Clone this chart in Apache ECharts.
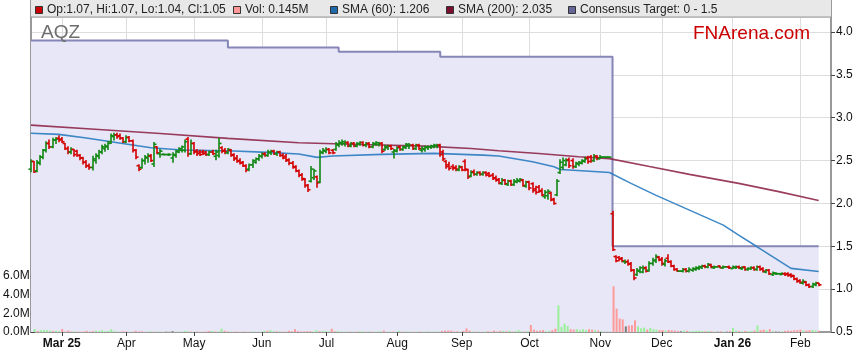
<!DOCTYPE html>
<html>
<head>
<meta charset="utf-8">
<script src="https://cdn.jsdelivr.net/npm/echarts@6/dist/echarts.min.js"></script>
<style>
html,body{margin:0;padding:0;background:#fff;}
#chart{width:859px;height:363px;}
</style>
</head>
<body>
<div id="chart"></div>
<script>
// ---------- DATA ----------
// weekday calendar (category axis), 17 Feb 2025 .. 16 Feb 2026
var startDate = '2025-02-17';
var categoryCount = 261;

var opens = [
2.40,2.49,2.38,2.47,2.54,2.62,2.70,2.66,2.74,2.76,
2.75,2.70,2.64,2.60,2.63,2.61,2.56,2.53,2.48,2.44,
2.42,2.50,2.55,2.60,2.64,2.66,2.72,2.78,2.80,2.79,
2.76,2.72,2.77,2.73,2.62,2.44,2.42,2.50,2.53,2.55,
2.46,2.66,2.58,2.57,2.57,2.57,2.53,2.56,2.60,2.62,
2.62,2.75,2.58,2.70,2.61,2.60,2.60,2.60,2.57,2.60,
2.55,2.56,2.65,2.62,2.59,2.62,2.57,2.53,2.50,2.48,
2.44,2.40,2.45,2.48,2.52,2.55,2.58,2.56,2.59,2.61,
2.58,2.60,2.56,2.55,2.51,2.47,2.43,2.38,2.33,2.28,
2.21,2.26,2.30,2.31,2.25,2.59,2.61,2.63,2.62,2.63,
2.68,2.70,2.70,2.71,2.67,2.70,2.67,2.69,2.71,2.68,
2.70,2.66,2.69,2.69,2.70,2.63,2.65,2.67,2.60,2.61,
2.66,2.63,2.65,2.67,2.68,2.64,2.68,2.62,2.63,2.65,
2.66,2.66,2.67,2.68,2.60,2.49,2.45,2.43,2.42,2.39,
2.42,2.49,2.39,2.32,2.37,2.34,2.36,2.34,2.36,2.35,
2.33,2.30,2.28,2.23,2.27,2.22,2.26,2.22,2.25,2.26,
2.27,2.20,2.25,2.23,2.17,2.19,2.15,2.08,2.09,2.12,
2.05,2.10,2.36,2.42,2.45,2.51,2.50,2.43,2.46,2.47,
2.49,2.53,2.54,2.50,2.55,2.52,2.54,2.54,2.54,1.88,
1.38,1.37,1.36,1.32,1.32,1.30,1.22,1.17,1.21,1.20,
1.25,1.22,1.30,1.33,1.37,1.35,1.29,1.36,1.32,1.27,
1.23,1.21,1.21,1.23,1.21,1.22,1.23,1.24,1.25,1.27,
1.26,1.28,1.25,1.26,1.27,1.25,1.26,1.26,1.24,1.25,
1.26,1.24,1.26,1.23,1.24,1.25,1.23,1.26,1.24,1.20,
1.22,1.17,1.18,1.18,1.17,1.18,1.18,1.17,1.16,1.12,
1.10,1.07,1.08,1.05,1.03,1.05,1.07
];
var highs = [
2.51,2.49,2.50,2.56,2.63,2.72,2.74,2.76,2.77,2.79,
2.77,2.70,2.66,2.65,2.63,2.62,2.57,2.54,2.50,2.46,
2.55,2.58,2.62,2.68,2.69,2.72,2.81,2.82,2.82,2.81,
2.77,2.79,2.78,2.74,2.63,2.45,2.52,2.56,2.58,2.57,
2.71,2.66,2.63,2.58,2.57,2.58,2.59,2.62,2.65,2.67,
2.74,2.77,2.74,2.71,2.63,2.62,2.62,2.61,2.61,2.62,
2.62,2.76,2.66,2.64,2.64,2.63,2.58,2.56,2.52,2.49,
2.45,2.46,2.51,2.53,2.57,2.59,2.59,2.62,2.62,2.62,
2.61,2.61,2.58,2.57,2.52,2.49,2.44,2.39,2.35,2.29,
2.22,2.43,2.40,2.32,2.62,2.64,2.65,2.64,2.63,2.71,
2.73,2.74,2.73,2.72,2.71,2.71,2.71,2.72,2.72,2.71,
2.71,2.71,2.72,2.71,2.71,2.68,2.68,2.68,2.63,2.66,
2.67,2.67,2.70,2.70,2.69,2.69,2.69,2.66,2.67,2.67,
2.68,2.69,2.69,2.69,2.62,2.50,2.48,2.45,2.44,2.44,
2.43,2.51,2.40,2.38,2.39,2.37,2.37,2.37,2.37,2.36,
2.35,2.32,2.29,2.29,2.28,2.27,2.27,2.28,2.29,2.29,
2.28,2.26,2.26,2.24,2.20,2.21,2.17,2.15,2.16,2.13,
2.06,2.28,2.51,2.53,2.52,2.53,2.52,2.48,2.49,2.51,
2.54,2.55,2.56,2.57,2.56,2.56,2.54,2.54,2.54,1.91,
1.39,1.38,1.37,1.34,1.34,1.31,1.23,1.24,1.26,1.27,
1.26,1.32,1.36,1.40,1.38,1.37,1.35,1.40,1.33,1.28,
1.24,1.21,1.24,1.24,1.25,1.25,1.26,1.27,1.28,1.28,
1.30,1.29,1.27,1.26,1.27,1.27,1.26,1.27,1.27,1.27,
1.27,1.26,1.26,1.25,1.26,1.26,1.27,1.27,1.25,1.23,
1.23,1.20,1.19,1.18,1.19,1.19,1.19,1.18,1.16,1.13,
1.11,1.11,1.09,1.06,1.07,1.08,1.07
];
var lows = [
2.37,2.36,2.37,2.45,2.52,2.60,2.64,2.65,2.70,2.72,
2.71,2.63,2.58,2.58,2.55,2.55,2.51,2.46,2.42,2.40,
2.39,2.47,2.52,2.58,2.61,2.63,2.70,2.74,2.76,2.75,
2.71,2.71,2.72,2.60,2.52,2.38,2.41,2.46,2.48,2.49,
2.43,2.58,2.54,2.57,2.57,2.56,2.48,2.54,2.59,2.60,
2.60,2.55,2.57,2.58,2.56,2.56,2.57,2.56,2.56,2.57,
2.51,2.54,2.59,2.58,2.58,2.55,2.50,2.48,2.46,2.43,
2.37,2.38,2.42,2.47,2.50,2.53,2.55,2.55,2.57,2.57,
2.56,2.55,2.52,2.49,2.45,2.41,2.37,2.31,2.27,2.19,
2.14,2.25,2.28,2.19,2.24,2.58,2.59,2.58,2.58,2.62,
2.66,2.68,2.67,2.66,2.66,2.66,2.66,2.68,2.67,2.66,
2.65,2.65,2.68,2.67,2.59,2.62,2.63,2.63,2.53,2.60,
2.62,2.62,2.64,2.64,2.63,2.63,2.63,2.60,2.61,2.63,
2.64,2.65,2.65,2.55,2.50,2.41,2.39,2.39,2.38,2.38,
2.38,2.38,2.29,2.31,2.33,2.33,2.33,2.33,2.32,2.31,
2.28,2.26,2.23,2.22,2.22,2.21,2.21,2.21,2.24,2.25,
2.20,2.19,2.16,2.13,2.11,2.13,2.09,2.06,2.05,2.03,
1.99,2.09,2.35,2.40,2.44,2.42,2.41,2.42,2.44,2.46,
2.48,2.47,2.48,2.49,2.51,2.52,2.54,2.54,2.54,1.45,
1.32,1.33,1.32,1.30,1.28,1.21,1.11,1.16,1.19,1.19,
1.20,1.21,1.28,1.31,1.33,1.28,1.27,1.31,1.26,1.22,
1.21,1.21,1.20,1.20,1.20,1.21,1.22,1.23,1.24,1.25,
1.25,1.25,1.24,1.26,1.25,1.24,1.26,1.24,1.24,1.24,
1.24,1.23,1.22,1.22,1.23,1.22,1.22,1.22,1.20,1.19,
1.17,1.16,1.17,1.18,1.17,1.16,1.15,1.14,1.11,1.08,
1.07,1.06,1.04,1.02,1.02,1.04,1.04
];
var closes = [
2.49,2.37,2.48,2.54,2.62,2.70,2.66,2.74,2.75,2.74,
2.72,2.64,2.60,2.63,2.57,2.56,2.53,2.48,2.44,2.42,
2.52,2.56,2.60,2.66,2.67,2.70,2.79,2.80,2.78,2.76,
2.72,2.77,2.73,2.62,2.54,2.40,2.50,2.54,2.56,2.50,
2.69,2.59,2.61,2.57,2.57,2.57,2.57,2.61,2.64,2.66,
2.72,2.58,2.70,2.60,2.58,2.57,2.58,2.57,2.60,2.58,
2.60,2.70,2.61,2.60,2.63,2.56,2.52,2.49,2.47,2.44,
2.39,2.45,2.50,2.52,2.55,2.57,2.56,2.60,2.61,2.58,
2.60,2.56,2.53,2.50,2.47,2.42,2.38,2.33,2.29,2.21,
2.16,2.40,2.38,2.24,2.60,2.62,2.63,2.59,2.59,2.69,
2.71,2.72,2.71,2.67,2.70,2.67,2.70,2.71,2.68,2.70,
2.66,2.70,2.71,2.70,2.61,2.66,2.67,2.64,2.62,2.65,
2.63,2.66,2.69,2.68,2.64,2.68,2.64,2.64,2.66,2.66,
2.67,2.68,2.68,2.57,2.52,2.43,2.41,2.41,2.40,2.43,
2.39,2.40,2.31,2.36,2.34,2.36,2.34,2.36,2.33,2.32,
2.29,2.27,2.24,2.27,2.23,2.26,2.22,2.26,2.27,2.28,
2.21,2.25,2.18,2.15,2.13,2.14,2.10,2.13,2.14,2.04,
2.00,2.26,2.48,2.50,2.50,2.44,2.43,2.47,2.48,2.50,
2.52,2.49,2.50,2.55,2.53,2.54,2.54,2.54,2.54,1.46,
1.33,1.35,1.33,1.32,1.29,1.22,1.13,1.22,1.25,1.24,
1.21,1.30,1.34,1.38,1.34,1.30,1.33,1.32,1.27,1.23,
1.21,1.21,1.23,1.21,1.23,1.24,1.25,1.26,1.27,1.26,
1.29,1.26,1.26,1.26,1.25,1.26,1.26,1.25,1.26,1.26,
1.25,1.25,1.23,1.24,1.25,1.23,1.26,1.23,1.21,1.22,
1.18,1.19,1.18,1.18,1.18,1.17,1.16,1.15,1.12,1.09,
1.08,1.09,1.05,1.03,1.06,1.07,1.05
];
// volume, millions
var volumes = [
0.32,0.12,0.20,0.22,0.20,0.15,0.10,0.12,0.10,0.32,
0.05,0.15,0.05,0.08,0.04,0.03,0.05,0.12,0.04,0.10,
0.15,0.10,0.20,0.08,0.12,0.30,0.10,0.05,0.03,0.08,
0.05,0.02,0.03,0.12,0.05,0.08,0.02,0.04,0.06,0.03,
0.05,0.02,0.03,0.04,0.02,0.10,0.03,0.05,0.03,0.12,
0.08,0.04,0.03,0.05,0.02,0.03,0.06,0.10,0.12,0.05,
0.08,0.35,0.12,0.05,0.04,0.03,0.05,0.02,0.04,0.03,
0.02,0.05,0.02,0.03,0.04,0.12,0.12,0.20,0.10,0.08,
0.06,0.05,0.03,0.12,0.08,0.30,0.10,0.05,0.06,0.08,
0.08,0.06,0.20,0.08,0.12,0.10,0.06,0.35,0.08,0.10,
0.05,0.04,0.03,0.04,0.02,0.04,0.06,0.08,0.03,0.05,
0.04,0.03,0.05,0.06,0.15,0.03,0.04,0.04,0.02,0.12,
0.03,0.05,0.03,0.04,0.02,0.04,0.05,0.03,0.06,0.04,
0.04,0.06,0.02,0.12,0.15,0.15,0.15,0.05,0.08,0.04,
0.12,0.38,0.15,0.05,0.03,0.04,0.02,0.05,0.08,0.03,
0.15,0.05,0.12,0.12,0.08,0.15,0.05,0.10,0.18,0.08,
0.05,0.10,0.75,0.25,0.12,0.15,0.20,0.08,0.12,0.20,
0.35,2.85,0.55,0.90,0.65,0.30,0.25,0.30,0.20,0.30,
0.20,0.30,0.25,0.20,0.15,0.10,0.02,0.02,0.02,4.90,
2.50,1.45,1.35,0.60,0.70,0.72,1.25,0.60,0.40,0.47,
0.25,0.45,0.30,0.25,0.20,0.20,0.15,0.22,0.18,0.15,
0.12,0.08,0.15,0.12,0.08,0.10,0.12,0.15,0.10,0.08,
0.12,0.08,0.05,0.04,0.08,0.05,0.04,0.10,0.45,0.15,
0.10,0.08,0.12,0.08,0.10,0.15,0.70,0.20,0.25,0.18,
0.30,0.10,0.05,0.04,0.08,0.12,0.15,0.12,0.18,0.20,
0.25,0.15,0.15,0.20,0.22,0.15,0.145
];
// moving averages read at sample days (day index, value)
var sma60Idx = [0,9,18,26,39,49,66,77,87,93,98,114,131,147,152,163,170,172,179,188,195,203,214,225,230,236,247,256];
var sma60Val = [2.818,2.806,2.763,2.720,2.650,2.623,2.611,2.596,2.576,2.537,2.553,2.572,2.584,2.564,2.553,2.486,2.428,2.395,2.381,2.360,2.234,2.097,1.922,1.747,1.630,1.494,1.242,1.206];
var sma200Idx = [0,22,42,64,87,107,128,143,152,165,178,188,201,214,230,243,256];
var sma200Val = [2.914,2.862,2.815,2.759,2.708,2.687,2.669,2.640,2.614,2.582,2.544,2.523,2.430,2.339,2.234,2.138,2.035];
// consensus target changes (day index, value)
var consIdx = [0,64,100,133,189,256];
var consVal = [3.90,3.82,3.77,3.71,1.50,1.50];

var monthNames = ['Jan','Feb','Mar','Apr','May','Jun','Jul','Aug','Sep','Oct','Nov','Dec'];

// ---------- BUILD ----------
function pad(n){return (n<10?'0':'')+n;}
var categories = [];
(function(){
  var d = new Date(startDate + 'T00:00:00Z');
  while (categories.length < categoryCount) {
    var wd = d.getUTCDay();
    if (wd !== 0 && wd !== 6) categories.push(d.getUTCFullYear()+'-'+pad(d.getUTCMonth()+1)+'-'+pad(d.getUTCDate()));
    d.setUTCDate(d.getUTCDate()+1);
  }
})();
function isMonthStart(i){
  return i > 0 && categories[i].slice(5,7) !== categories[i-1].slice(5,7);
}
var ohlc = opens.map(function(o,i){return [i, o, highs[i], lows[i], closes[i]];});
var volData = volumes.map(function(v,i){return [i, v];});
var sma60 = sma60Idx.map(function(i,k){return [i, sma60Val[k]];});
var sma200 = sma200Idx.map(function(i,k){return [i, sma200Val[k]];});
var cons = consIdx.map(function(i,k){return [i, consVal[k]];});

var RED = '#d40000', GREEN = '#118811';
var FONT = 'Liberation Sans, Arial, sans-serif';

var chart = echarts.init(document.getElementById('chart'));
var option = {
  animation: false,
  backgroundColor: '#ffffff',
  grid: [
    {left: 31, right: 28, top: 17, bottom: 31},
    {left: 31, right: 28, top: 276, bottom: 31}
  ],
  xAxis: [
    {
      type: 'category', gridIndex: 0, data: categories, boundaryGap: false,
      axisLine: {lineStyle: {color: '#999', width: 2}},
      axisTick: {interval: function(i){return isMonthStart(i);}, length: 4, lineStyle: {color: '#444'}},
      axisLabel: {
        interval: function(i){return isMonthStart(i);},
        margin: 6, color: '#111', fontSize: 12, fontFamily: FONT,
        formatter: function(v){
          var m = +v.slice(5,7);
          var s = monthNames[m-1];
          if (m === 1 || v.slice(0,7) === '2025-03') return '{b|' + s + ' ' + v.slice(2,4) + '}';
          return s;
        },
        rich: {b: {fontWeight: 'bold', fontSize: 12, fontFamily: FONT, color: '#111'}}
      },
      splitLine: {show: true, interval: function(i){return isMonthStart(i);}, lineStyle: {color: '#dddddd', width: 1}}
    },
    {type: 'category', gridIndex: 1, data: categories, boundaryGap: false, show: false}
  ],
  yAxis: [
    {
      type: 'value', gridIndex: 0, position: 'right', min: 0.5, max: 4.175, interval: 0.5,
      axisLine: {show: true, lineStyle: {color: '#999', width: 2}},
      axisTick: {show: true, length: 4, lineStyle: {color: '#444'}},
      axisLabel: {showMaxLabel: false, margin: 5, color: '#111', fontSize: 12, fontFamily: FONT,
        formatter: function(v){return v.toFixed(1);}},
      splitLine: {show: true, lineStyle: {color: '#dddddd'}}
    },
    {
      type: 'value', gridIndex: 1, position: 'left', min: 0, max: 6, interval: 2,
      axisLine: {show: true, lineStyle: {color: '#999', width: 2}},
      axisTick: {show: true, length: 4, lineStyle: {color: '#444'}},
      axisLabel: {margin: 5, color: '#111', fontSize: 12, fontFamily: FONT,
        formatter: function(v){return v.toFixed(1) + 'M';}},
      splitLine: {show: false}
    },
    {
      type: 'value', gridIndex: 0, position: 'left', min: 0.5, max: 4.175,
      axisLine: {show: true, lineStyle: {color: '#999', width: 2}},
      axisTick: {show: false}, axisLabel: {show: false}, splitLine: {show: false}
    }
  ],
  series: [
    {
      name: 'Consensus Target', type: 'line', xAxisIndex: 0, yAxisIndex: 0, data: cons,
      step: 'end', symbol: 'none', z: 1,
      lineStyle: {color: '#8686b6', width: 2},
      areaStyle: {color: '#e7e7f7', opacity: 1, origin: 'start'}
    },
    {
      name: 'Volume', type: 'bar', xAxisIndex: 1, yAxisIndex: 1, data: volData, barWidth: 2, z: 2,
      itemStyle: {color: function(p){
        var i = p.dataIndex;
        if (closes[i] > opens[i]) return '#99f099';
        if (closes[i] < opens[i]) return '#ff9a9a';
        return '#7a7a7a';
      }}
    },
    {
      name: 'SMA (200)', type: 'line', xAxisIndex: 0, yAxisIndex: 0, data: sma200, symbol: 'none',
      smooth: false, z: 3, lineStyle: {color: '#8a1c40', width: 1.6, opacity: 0.85}
    },
    {
      name: 'SMA (60)', type: 'line', xAxisIndex: 0, yAxisIndex: 0, data: sma60, symbol: 'none',
      smooth: false, z: 3, lineStyle: {color: '#2a7cc0', width: 1.6, opacity: 0.9}
    },
    {
      name: 'Price', type: 'custom', xAxisIndex: 0, yAxisIndex: 0, data: ohlc, z: 4,
      encode: {x: 0, y: [1,2,3,4]},
      renderItem: function(params, api){
        var i = api.value(0);
        var o = api.coord([i, api.value(1)]);
        var h = api.coord([i, api.value(2)]);
        var l = api.coord([i, api.value(3)]);
        var c = api.coord([i, api.value(4)]);
        var x = Math.round(o[0]);
        var col = api.value(4) >= api.value(1) ? GREEN : RED;
        var st = {stroke: col, lineWidth: 1.6};
        return {type: 'group', children: [
          {type: 'line', shape: {x1: x, y1: h[1] - 0.5, x2: x, y2: l[1] + 0.5}, style: st},
          {type: 'line', shape: {x1: x - 2.5, y1: o[1], x2: x, y2: o[1]}, style: st},
          {type: 'line', shape: {x1: x, y1: c[1], x2: x + 2.5, y2: c[1]}, style: st}
        ]};
      }
    }
  ],
  graphic: [
    {type: 'rect', z: 50, shape: {x: 30.5, y: -1, width: 801, height: 18}, style: {fill: '#e8e8e8', stroke: '#9a9a9a', lineWidth: 1}},
    {type: 'rect', z: 51, shape: {x: 35.5, y: 6.5, width: 7, height: 7}, style: {fill: '#cc0000', stroke: '#333', lineWidth: 1}},
    {type: 'text', z: 51, x: 47, y: 10, style: {text: 'Op:1.07, Hi:1.07, Lo:1.04, Cl:1.05', fill: '#222', font: '12px ' + FONT, verticalAlign: 'middle'}},
    {type: 'rect', z: 51, shape: {x: 233.5, y: 6.5, width: 7, height: 7}, style: {fill: '#ff9999', stroke: '#333', lineWidth: 1}},
    {type: 'text', z: 51, x: 245, y: 10, style: {text: 'Vol: 0.145M', fill: '#222', font: '12px ' + FONT, verticalAlign: 'middle'}},
    {type: 'rect', z: 51, shape: {x: 330.5, y: 6.5, width: 7, height: 7}, style: {fill: '#1f6aaa', stroke: '#333', lineWidth: 1}},
    {type: 'text', z: 51, x: 342, y: 10, style: {text: 'SMA (60): 1.206', fill: '#222', font: '12px ' + FONT, verticalAlign: 'middle'}},
    {type: 'rect', z: 51, shape: {x: 446.5, y: 6.5, width: 7, height: 7}, style: {fill: '#7a1030', stroke: '#333', lineWidth: 1}},
    {type: 'text', z: 51, x: 458, y: 10, style: {text: 'SMA (200): 2.035', fill: '#222', font: '12px ' + FONT, verticalAlign: 'middle'}},
    {type: 'rect', z: 51, shape: {x: 568.5, y: 6.5, width: 7, height: 7}, style: {fill: '#666699', stroke: '#333', lineWidth: 1}},
    {type: 'text', z: 51, x: 580, y: 10, style: {text: 'Consensus Target: 0 - 1.5', fill: '#222', font: '12px ' + FONT, verticalAlign: 'middle'}},
    {type: 'text', z: 52, x: 41, y: 33, style: {text: 'AQZ', fill: '#6e6e6e', font: '19px ' + FONT, verticalAlign: 'middle'}},
    {type: 'text', z: 52, x: 693, y: 34, style: {text: 'FNArena.com', fill: '#cc0000', font: '19px ' + FONT, verticalAlign: 'middle'}}
  ]
};
chart.setOption(option);
</script>
</body>
</html>
